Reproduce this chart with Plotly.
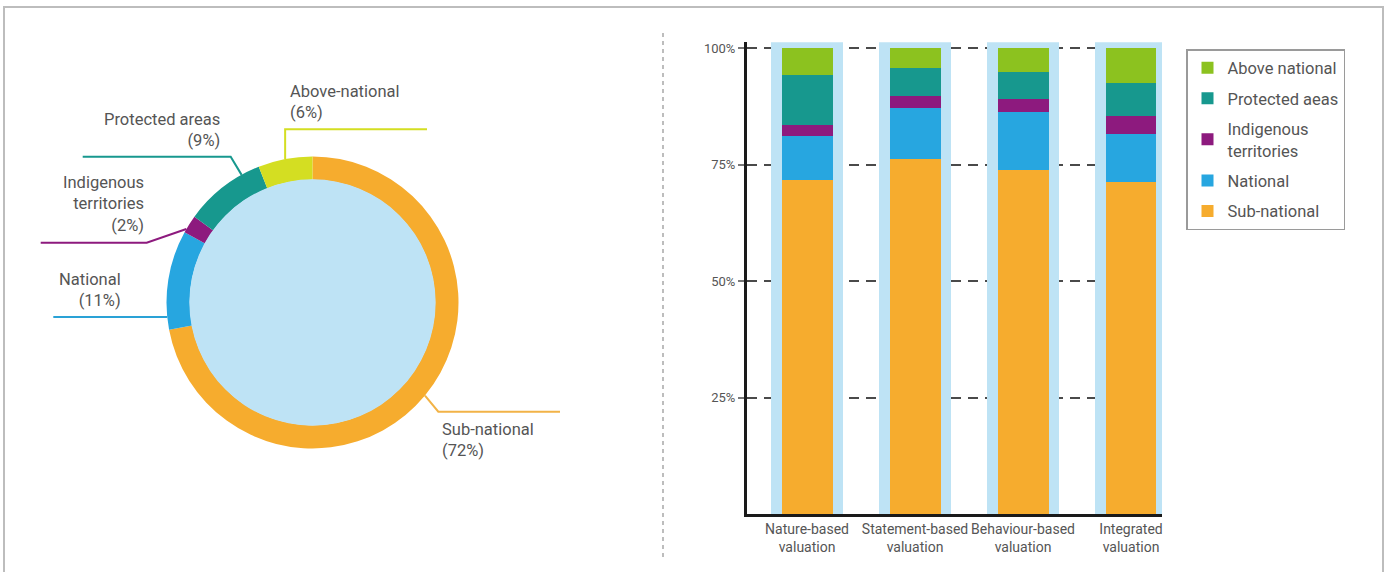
import math
import numpy as np
import plotly.graph_objects as go

W, H = 1391, 572

# ---------------- data ----------------
donut_labels = ["Sub-national", "National", "Indigenous territories", "Protected areas", "Above-national"]
donut_values = [72, 11, 2, 9, 6]

bar_categories = ["Nature-based<br>valuation", "Statement-based<br>valuation",
                  "Behaviour-based<br>valuation", "Integrated<br>valuation"]
sub_national = [71.6, 76.2, 73.8, 71.2]
national = [9.6, 11.0, 12.5, 10.4]
indigenous = [2.3, 2.6, 2.7, 3.9]
protected = [10.7, 6.0, 5.9, 7.1]
above_national = [5.8, 4.2, 5.1, 7.4]
y_ticks = [25, 50, 75, 100]
y_ticktext = ["25%", "50%", "75%", "100%"]

# ---------------- style ----------------
ORANGE = "#F6AC2E"
BLUE = "#27A6E0"
PURPLE = "#8D1A7E"
TEAL = "#17988E"
GREEN = "#8CC21F"
YELLOW = "#D4DE22"
LIGHT = "#BEE3F5"
TEXT = "#555555"
FONT = "Roboto"


def px(x):
    return x / W


def py(y):
    return 1 - y / H


fig = go.Figure()

# ---------------- donut ----------------
CX, CY, R = 312.5, 302.5, 146.0
HOLE = 0.84
fig.add_trace(go.Pie(
    labels=donut_labels, values=donut_values, sort=False, direction="clockwise",
    rotation=0, hole=HOLE, textinfo="none", showlegend=False,
    marker=dict(colors=[ORANGE, BLUE, PURPLE, TEAL, YELLOW], line=dict(width=0)),
    domain=dict(x=[px(CX - R), px(CX + R)], y=[py(CY + R), py(CY - R)]),
))
r_in = R * HOLE + 0.5
fig.add_trace(go.Pie(
    labels=["centre"], values=[1], textinfo="none", showlegend=False, hoverinfo="skip",
    marker=dict(colors=[LIGHT], line=dict(width=0)),
    domain=dict(x=[px(CX - r_in), px(CX + r_in)], y=[py(CY + r_in), py(CY - r_in)]),
))

# label layout: (anchor fraction within slice, leader waypoints, text x, text y centre, align, colour)
label_layout = {
    "Above-national": (0.5, [("a", 129.3), (427, 129.3)], 288, 102.3, "left", YELLOW),
    "Protected areas": (0.77, [(230.7, 156.7), (82.7, 156.7)], 222, 130.2, "right", TEAL),
    "Indigenous territories": (0.2, [(146.7, 242.7), (40.7, 242.7)], 146, 204.3, "right", PURPLE),
    "National": (0.13, [(53.3, "a")], 123, 290.3, "right", "#2AA2D6"),
    "Sub-national": (0.5, [(438.3, 411.7), (560, 411.7)], 440, 440.0, "left", "#F2B347"),
}
label_text = {
    "Above-national": "Above-national<br>(6%)",
    "Protected areas": "Protected areas<br>(9%)",
    "Indigenous territories": "Indigenous<br>territories<br>(2%)",
    "National": "National<br>(11%)",
    "Sub-national": "Sub-national<br>(72%)",
}

total = sum(donut_values)
starts = np.concatenate([[0], np.cumsum(donut_values)[:-1]]) / total * 360
spans = np.array(donut_values) / total * 360
shapes = []
annotations = []
for lab, s0, sp in zip(donut_labels, starts, spans):
    frac, pts, tx, ty, align, col = label_layout[lab]
    ang = math.radians(s0 + frac * sp)
    ax, ay = CX + R * math.sin(ang), CY - R * math.cos(ang)
    path = [(ax, ay)]
    for x, y in pts:
        path.append((ax if x == "a" else x, ay if y == "a" else y))
    d = "M " + " L ".join(f"{px(x):.5f},{py(y):.5f}" for x, y in path)
    shapes.append(dict(type="path", path=d, xref="paper", yref="paper",
                       line=dict(color=col, width=2)))
    annotations.append(dict(
        text=label_text[lab], x=px(tx), y=py(ty), xref="paper", yref="paper",
        xanchor="left" if align == "left" else "right", yanchor="middle",
        align=align, showarrow=False, font=dict(family=FONT, size=16.5, color=TEXT),
    ))

# ---------------- stacked bars ----------------
series = [
    ("Sub-national", sub_national, ORANGE),
    ("National", national, BLUE),
    ("Indigenous<br>territories", indigenous, PURPLE),
    ("Protected aeas", protected, TEAL),
    ("Above national", above_national, GREEN),
]
totals = np.sum([s[1] for s in series], axis=0)
BG_PAD = 1.2
fig.add_trace(go.Bar(
    x=bar_categories, y=totals + BG_PAD, width=0.672, marker=dict(color=LIGHT, line=dict(width=0)),
    showlegend=False, hoverinfo="skip",
))
base = np.zeros(len(bar_categories))
for rank, (name, vals, col) in enumerate(series):
    # top segment of the stack is listed first in the legend
    fig.add_trace(go.Bar(
        x=bar_categories, y=vals, base=base.copy(), width=0.472, name=name,
        legendgroup=name, legendrank=1000 - rank,
        marker=dict(color=col, line=dict(width=0)),
    ))
    base = base + np.array(vals)

# separator and outer frame
shapes.append(dict(type="line", xref="paper", yref="paper", x0=px(663), x1=px(663),
                   y0=py(33), y1=py(558), line=dict(color="#A8A8A8", width=1.5, dash="4px,4px")))
shapes.append(dict(type="rect", xref="paper", yref="paper", x0=px(4), x1=px(1383),
                   y0=-0.2, y1=py(7), line=dict(color="#BDBDBD", width=2)))

fig.update_layout(
    width=W, height=H, margin=dict(l=0, r=0, t=0, b=0),
    paper_bgcolor="white", plot_bgcolor="white",
    barmode="overlay", bargap=0,
    font=dict(family=FONT, color=TEXT),
    shapes=shapes, annotations=annotations,
    legend=dict(x=px(1186), y=py(49), xanchor="left", yanchor="top",
                traceorder="grouped", tracegroupgap=6,
                bgcolor="white", bordercolor="#9A9A9A", borderwidth=1.5,
                font=dict(family=FONT, size=16.5, color=TEXT)),
    xaxis=dict(domain=[px(747), px(1162)], range=[-0.556, 3.287], type="category",
               showline=True, linecolor="#1A1A1A", linewidth=3, ticks="",
               tickfont=dict(family=FONT, size=14, color=TEXT), showgrid=False),
    yaxis=dict(domain=[py(514), py(42.3)], range=[0, 101.3], tickvals=y_ticks,
               ticktext=y_ticktext, showline=True, linecolor="#1A1A1A", linewidth=3,
               ticks="outside", ticklen=6, tickcolor="#777", tickwidth=1.5,
               tickfont=dict(family=FONT, size=13, color=TEXT),
               showgrid=True, gridcolor="#4A4A4A", gridwidth=1.5, griddash="10px,7px",
               zeroline=False),
)

fig.write_html("out.html")
